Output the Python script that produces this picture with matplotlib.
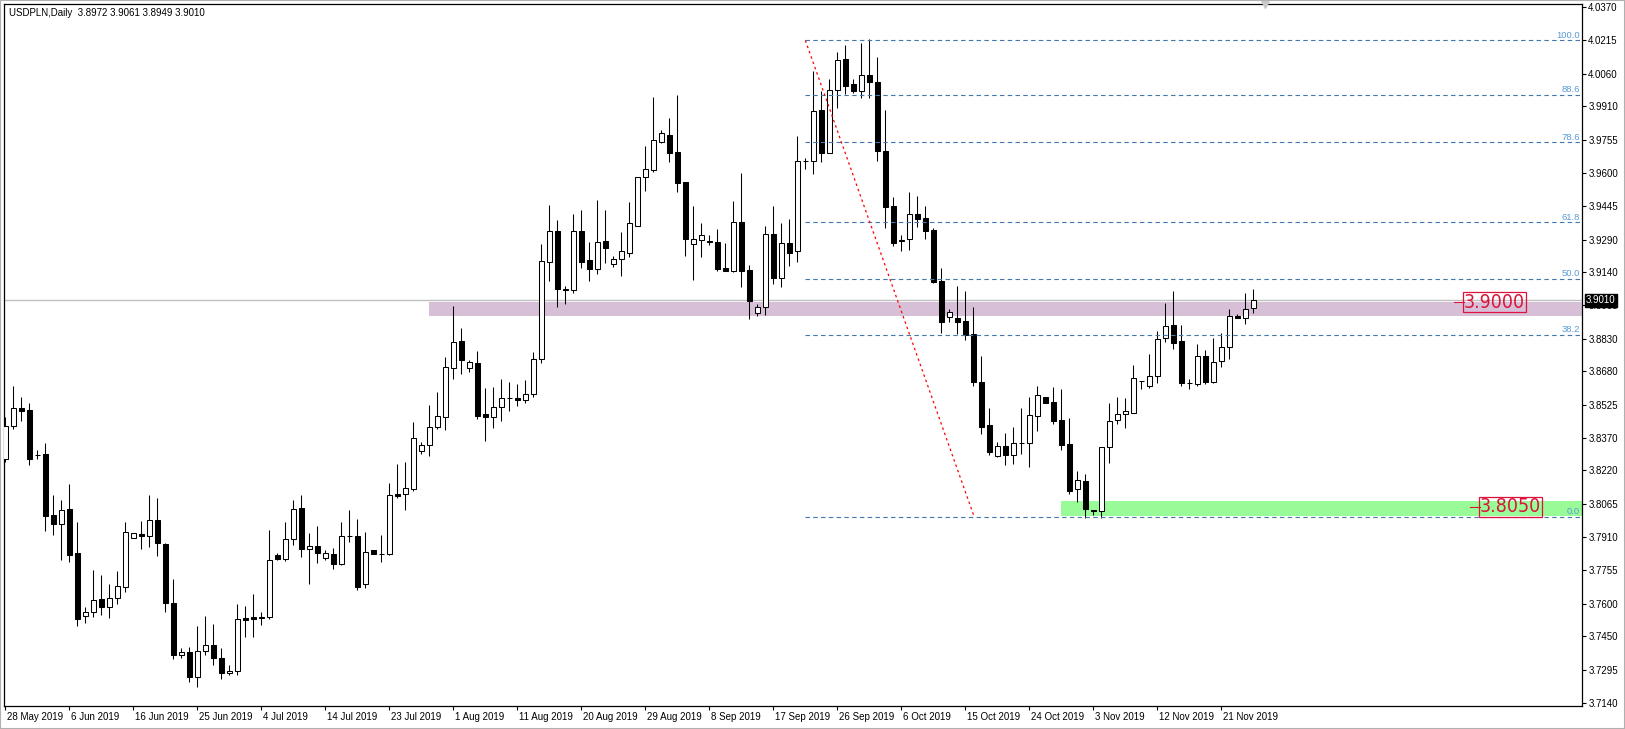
import matplotlib
matplotlib.use("Agg")
import matplotlib.pyplot as plt
import matplotlib.transforms as mtransforms
from matplotlib.patches import Rectangle
from matplotlib import font_manager as fm

# ---------------- data ----------------
opens = [3.8271, 3.8424, 3.8508, 3.8498, 3.8292, 3.8294, 3.8011, 3.7969, 3.8039, 3.7836,
         3.7542, 3.7561, 3.7621, 3.7584, 3.7626, 3.7677, 3.7904, 3.7925, 3.7914, 3.7988,
         3.7878, 3.7603, 3.7364, 3.7375, 3.7259, 3.7380, 3.7408, 3.7347, 3.7278, 3.7287,
         3.7533, 3.7538, 3.7535, 3.7540, 3.7825, 3.7810, 3.7899, 3.8043, 3.7853, 3.7867,
         3.7811, 3.7830, 3.7783, 3.7913, 3.7915, 3.7690, 3.7850, 3.7830, 3.7833, 3.8110,
         3.8108, 3.8135, 3.8308, 3.8339, 3.8419, 3.8466, 3.8693, 3.8818, 3.8693, 3.8716,
         3.8480, 3.8469, 3.8515, 3.8554, 3.8555, 3.8548, 3.8575, 3.8735, 3.9188, 3.9329,
         3.9060, 3.9055, 3.9329, 3.9194, 3.9155, 3.9284, 3.9176, 3.9199, 3.9230, 3.9355,
         3.9579, 3.9613, 3.9745, 3.9774, 3.9697, 3.9558, 3.9271, 3.9290, 3.9284, 3.9278,
         3.9157, 3.9146, 3.9370, 3.9148, 3.8948, 3.8979, 3.9316, 3.9114, 3.9273, 3.9236,
         3.9654, 3.9657, 3.9892, 3.9691, 3.9983, 4.0127, 4.0012, 3.9981, 4.0053, 4.0023,
         3.9703, 3.9446, 3.9286, 3.9292, 3.9409, 3.9391, 3.9335, 3.9098, 3.8930, 3.8926,
         3.8913, 3.8852, 3.8629, 3.8428, 3.8284, 3.8331, 3.8289, 3.8345, 3.8346, 3.8471,
         3.8561, 3.8536, 3.8454, 3.8342, 3.8132, 3.8171, 3.8036, 3.8031, 3.8327, 3.8455,
         3.8480, 3.8488, 3.8633, 3.8610, 3.8657, 3.8833, 3.8893, 3.8821, 3.8623, 3.8621,
         3.8749, 3.8629, 3.8728, 3.8791, 3.8935, 3.8926, 3.8972]
highs = [3.8466, 3.8611, 3.8560, 3.8532, 3.8314, 3.8347, 3.8106, 3.8082, 3.8157, 3.7979,
         3.7584, 3.7757, 3.7734, 3.7692, 3.7753, 3.7979, 3.7928, 3.7983, 3.8106, 3.8092,
         3.7884, 3.7716, 3.7394, 3.7398, 3.7497, 3.7544, 3.7505, 3.7395, 3.7317, 3.7598,
         3.7589, 3.7645, 3.7560, 3.7943, 3.7834, 3.7981, 3.8082, 3.8105, 3.7930, 3.7961,
         3.7850, 3.7858, 3.7980, 3.8036, 3.7994, 3.7933, 3.7850, 3.7919, 3.8159, 3.8249,
         3.8258, 3.8444, 3.8350, 3.8523, 3.8583, 3.8746, 3.8982, 3.8880, 3.8730, 3.8773,
         3.8602, 3.8606, 3.8643, 3.8630, 3.8620, 3.8640, 3.8770, 3.9270, 3.9451, 3.9381,
         3.9077, 3.9408, 3.9428, 3.9278, 3.9474, 3.9428, 3.9213, 3.9324, 3.9465, 3.9579,
         3.9725, 3.9952, 3.9797, 3.9853, 3.9961, 3.9558, 3.9446, 3.9366, 3.9312, 3.9340,
         3.9273, 3.9469, 3.9598, 3.9172, 3.8990, 3.9353, 3.9446, 3.9369, 3.9386, 3.9771,
         3.9669, 4.0073, 3.9980, 4.0036, 4.0161, 4.0193, 4.0036, 4.0203, 4.0220, 4.0138,
         3.9892, 3.9488, 3.9310, 3.9511, 3.9493, 3.9446, 3.9344, 3.9158, 3.8967, 3.9075,
         3.9052, 3.8977, 3.8750, 3.8509, 3.8351, 3.8393, 3.8421, 3.8509, 3.8558, 3.8612,
         3.8561, 3.8607, 3.8598, 3.8463, 3.8217, 3.8203, 3.8036, 3.8327, 3.8533, 3.8561,
         3.8556, 3.8709, 3.8634, 3.8760, 3.8867, 3.8997, 3.9053, 3.8895, 3.8644, 3.8807,
         3.8779, 3.8833, 3.8858, 3.8969, 3.8946, 3.9043, 3.9061]
lows = [3.8260, 3.8410, 3.8450, 3.8246, 3.8271, 3.7940, 3.7921, 3.7805, 3.7793, 3.7496,
        3.7513, 3.7541, 3.7550, 3.7533, 3.7598, 3.7654, 3.7904, 3.7853, 3.7863, 3.7824,
        3.7561, 3.7343, 3.7351, 3.7239, 3.7213, 3.7364, 3.7315, 3.7250, 3.7269, 3.7269,
        3.7445, 3.7445, 3.7500, 3.7530, 3.7803, 3.7800, 3.7875, 3.7819, 3.7690, 3.7788,
        3.7805, 3.7760, 3.7779, 3.7889, 3.7665, 3.7675, 3.7830, 3.7796, 3.7827, 3.8093,
        3.8036, 3.8125, 3.8295, 3.8286, 3.8413, 3.8407, 3.8643, 3.8667, 3.8676, 3.8458,
        3.8357, 3.8416, 3.8449, 3.8495, 3.8520, 3.8530, 3.8560, 3.8720, 3.9100, 3.8979,
        3.8991, 3.9044, 3.9160, 3.9100, 3.9131, 3.9182, 3.9162, 3.9123, 3.9211, 3.9355,
        3.9517, 3.9606, 3.9739, 3.9652, 3.9511, 3.9216, 3.9103, 3.9211, 3.9267, 3.9146,
        3.9146, 3.9142, 3.9072, 3.8920, 3.8937, 3.8939, 3.9083, 3.9069, 3.9169, 3.9188,
        3.9616, 3.9596, 3.9652, 3.9691, 3.9903, 3.9968, 3.9972, 3.9949, 3.9949, 3.9657,
        3.9346, 3.9262, 3.9239, 3.9244, 3.9347, 3.9295, 3.9087, 3.8858, 3.8909, 3.8854,
        3.8823, 3.8609, 3.8390, 3.8291, 3.8280, 3.8244, 3.8250, 3.8295, 3.8233, 3.8404,
        3.8531, 3.8434, 3.8312, 3.8109, 3.8072, 3.8000, 3.8012, 3.7997, 3.8253, 3.8434,
        3.8418, 3.8485, 3.8599, 3.8604, 3.8627, 3.8817, 3.8785, 3.8609, 3.8596, 3.8610,
        3.8619, 3.8624, 3.8697, 3.8738, 3.8926, 3.8901, 3.8949]
closes = [3.8426, 3.8508, 3.8497, 3.8271, 3.8293, 3.8007, 3.7969, 3.8034, 3.7829, 3.7528,
          3.7561, 3.7617, 3.7587, 3.7626, 3.7682, 3.7932, 3.7928, 3.7914, 3.7988, 3.7881,
          3.7603, 3.7361, 3.7375, 3.7259, 3.7380, 3.7408, 3.7347, 3.7278, 3.7287, 3.7528,
          3.7527, 3.7532, 3.7538, 3.7803, 3.7810, 3.7899, 3.8039, 3.7856, 3.7867, 3.7838,
          3.7834, 3.7783, 3.7913, 3.7915, 3.7680, 3.7841, 3.7830, 3.7833, 3.8104, 3.8102,
          3.8136, 3.8368, 3.8339, 3.8419, 3.8470, 3.8698, 3.8814, 3.8733, 3.8721, 3.8473,
          3.8469, 3.8512, 3.8554, 3.8555, 3.8548, 3.8575, 3.8735, 3.9189, 3.9329, 3.9063,
          3.9055, 3.9329, 3.9188, 3.9155, 3.9278, 3.9253, 3.9199, 3.9236, 3.9366, 3.9579,
          3.9616, 3.9751, 3.9784, 3.9694, 3.9555, 3.9295, 3.9292, 3.9312, 3.9280, 3.9155,
          3.9146, 3.9370, 3.9146, 3.9007, 3.8976, 3.9315, 3.9114, 3.9273, 3.9230, 3.9654,
          3.9657, 3.9886, 3.9694, 3.9983, 4.0122, 4.0005, 3.9981, 4.0053, 4.0023, 3.9703,
          3.9443, 3.9276, 3.9288, 3.9409, 3.9387, 3.9332, 3.9095, 3.8909, 3.8953, 3.8909,
          3.8849, 3.8631, 3.8422, 3.8306, 3.8332, 3.8292, 3.8345, 3.8346, 3.8476, 3.8568,
          3.8531, 3.8451, 3.8339, 3.8125, 3.8174, 3.8039, 3.8031, 3.8327, 3.8448, 3.8480,
          3.8494, 3.8647, 3.8634, 3.8657, 3.8828, 3.8889, 3.8813, 3.8623, 3.8624, 3.8749,
          3.8629, 3.8721, 3.8791, 3.8935, 3.8926, 3.8967, 3.9010]

date_labels = ["28 May 2019", "6 Jun 2019", "16 Jun 2019", "25 Jun 2019", "4 Jul 2019",
               "14 Jul 2019", "23 Jul 2019", "1 Aug 2019", "11 Aug 2019", "20 Aug 2019",
               "29 Aug 2019", "8 Sep 2019", "17 Sep 2019", "26 Sep 2019", "6 Oct 2019",
               "15 Oct 2019", "24 Oct 2019", "3 Nov 2019", "12 Nov 2019", "21 Nov 2019"]
date_step = 8

price_ticks = ["4.0370", "4.0215", "4.0060", "3.9910", "3.9755", "3.9600", "3.9445",
               "3.9290", "3.9140", "3.8985", "3.8830", "3.8680", "3.8525", "3.8370",
               "3.8220", "3.8065", "3.7910", "3.7755", "3.7600", "3.7450", "3.7295", "3.7140"]

fib_levels = [0.0, 38.2, 50.0, 61.8, 78.6, 88.6, 100.0]
fib_high = 4.0215
fib_low = 3.8005
fib_anchor_bars = [100, 121.1]

resistance_zone = [3.8935, 3.9002]
resistance_start_bar = 52.96
support_zone = [3.8008, 3.8077]
support_start_bar = 131.96

level_labels = ["3.9000", "3.8050"]
level_label_prices = [3.9000, 3.8050]
level_label_bars = [182.3, 184.3]

bid_price = 3.9010
header_text = "USDPLN,Daily  3.8972 3.9061 3.8949 3.9010"

# ---------------- fonts ----------------
plt.rcParams['font.family'] = ['Liberation Sans', 'DejaVu Sans']


def pick_narrow_font():
    for fam, stretch, key, size in [('Liberation Sans Narrow', 'normal', 'narrow', 15.5),
                                     ('DejaVu Sans', 'condensed', 'condensed', 14.0)]:
        try:
            path = fm.findfont(fm.FontProperties(family=fam, stretch=stretch),
                               fallback_to_default=False)
            if key in path.lower():
                return dict(family=[fam, 'DejaVu Sans'], stretch=stretch), size
        except Exception:
            pass
    return dict(family=['Liberation Sans', 'DejaVu Sans']), 12.5


label_font, label_size = pick_narrow_font()

# ---------------- figure ----------------
W, H = 1625, 729
fig = plt.figure(figsize=(W / 100, H / 100), dpi=100)
fig.patch.set_facecolor('white')
ax = fig.add_axes([4 / W, (H - 706) / H, (1582 - 4) / W, (706 - 4) / H])
ax.set_facecolor('white')

n = len(opens)
xs = list(range(n))
xmax = 197.08
ax.set_xlim(-0.166, xmax)
ax.set_ylim(3.7126, 4.0384)

# zones
ax.add_patch(Rectangle((resistance_start_bar, resistance_zone[0]), xmax - resistance_start_bar,
                       resistance_zone[1] - resistance_zone[0], facecolor='#D8BFD8',
                       edgecolor='none', zorder=1))
ax.add_patch(Rectangle((support_start_bar, support_zone[0]), xmax - support_start_bar,
                       support_zone[1] - support_zone[0], facecolor='#98FB98',
                       edgecolor='none', zorder=1))

# bid line
ax.axhline(bid_price, color='#C0C0C0', lw=1.0, zorder=1.5)

# candles
lw = 0.75
for i in xs:
    o, h, l, c = opens[i], highs[i], lows[i], closes[i]
    ax.vlines(i, l, h, color='black', lw=lw, zorder=3)
    bull = c >= o
    bottom = min(o, c)
    height = max(abs(c - o), 0.00001)
    ax.bar(i, height, bottom=bottom, width=0.56,
           color='white' if bull else 'black', edgecolor='black', linewidth=lw, zorder=4)

# fibonacci
fib_col = '#4178AF'
for lev in fib_levels:
    p = fib_low + (fib_high - fib_low) * lev / 100.0
    ax.plot([fib_anchor_bars[0], xmax], [p, p], color=fib_col, lw=0.8,
            linestyle=(0, (4, 3)), zorder=5)
    ax.text(xmax - 0.3, p + 0.0003, f"{lev:.1f}", color='#5A9AD5', fontsize=6.8,
            ha='right', va='bottom', zorder=6)
ax.plot(fib_anchor_bars, [fib_high, fib_low], color='red', lw=0.9,
        linestyle=(0, (2, 2.5)), zorder=5)

# level labels
for txt, p, b in zip(level_labels, level_label_prices, level_label_bars):
    ax.plot([b - 1.25, b], [p, p], color='#DC143C', lw=0.8, zorder=6)
    ax.text(b, p, txt, color='#DC143C', fontsize=label_size, ha='left', va='center',
            zorder=7, bbox=dict(boxstyle='square,pad=0.04', fc='none', ec='#DC143C', lw=0.9),
            **label_font)

# axes styling
for s in ax.spines.values():
    s.set_color('black')
    s.set_linewidth(0.9)
ax.yaxis.tick_right()
ax.set_yticks([float(t) for t in price_ticks])
ax.set_yticklabels(price_ticks)
ax.tick_params(axis='y', direction='out', length=3, width=0.8, pad=1.5, labelsize=7,
               colors='black')
xt = list(range(0, date_step * len(date_labels), date_step))
ax.set_xticks(xt)
ax.set_xticklabels(date_labels)
ax.tick_params(axis='x', direction='out', length=3, width=0.8, pad=1.5, labelsize=7,
               colors='black')
offset = mtransforms.ScaledTranslation(2 / 100, 0, fig.dpi_scale_trans)
for lab in ax.get_xticklabels():
    lab.set_horizontalalignment('left')
    lab.set_transform(lab.get_transform() + offset)

# bid price tag (covers the 3.8985 scale label, as in the terminal)
trans = mtransforms.blended_transform_factory(ax.transAxes, ax.transData)
tag_off = mtransforms.ScaledTranslation(4 / 100, 0, fig.dpi_scale_trans)
ax.text(1.0, bid_price, f"{bid_price:.4f}", transform=trans + tag_off, color='white',
        fontsize=7, ha='left', va='center', clip_on=False, zorder=10,
        bbox=dict(boxstyle='square,pad=0.15', fc='black', ec='black'))

# chart shift marker
ax.plot([157.5], [1.0], marker='v', color='#C8C8C8', markersize=6,
        transform=mtransforms.blended_transform_factory(ax.transData, ax.transAxes),
        clip_on=False, zorder=10)

# header
fig.text(9 / W, 1 - 13 / H, header_text, fontsize=7, color='black', ha='left', va='center')

# window frame
fig.add_artist(Rectangle((0, 0), 1, 1, transform=fig.transFigure, fill=False,
                         edgecolor='#B0B0B0', lw=1.5))

fig.savefig('out.png', dpi=100, facecolor='white')
